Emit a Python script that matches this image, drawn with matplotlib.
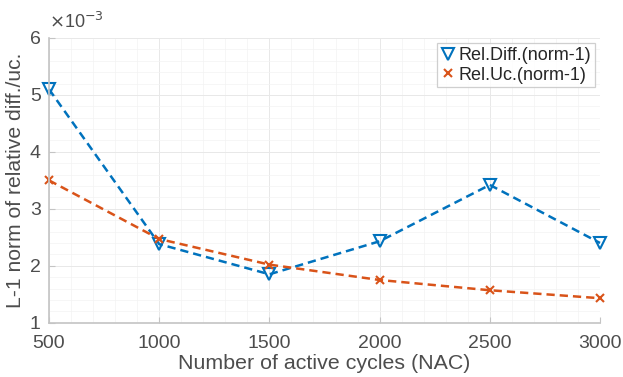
import matplotlib.pyplot as plt
from matplotlib.ticker import AutoMinorLocator

plt.rcParams['font.family'] = ['Liberation Sans', 'DejaVu Sans']

nac = [500, 1000, 1500, 2000, 2500, 3000]
rel_diff = [5.10, 2.38, 1.85, 2.43, 3.42, 2.40]   # x 1e-3
rel_uc = [3.50, 2.47, 2.02, 1.75, 1.57, 1.43]     # x 1e-3

blue = (0.0, 0.447, 0.741)
orange = (0.85, 0.325, 0.098)
grey = '#4d4d4d'

fig = plt.figure(figsize=(6.23, 3.77), dpi=100)
ax = fig.add_axes([49 / 623, 1 - 322.7 / 377, 551 / 623, 284.7 / 377])

ax.plot(nac, rel_diff, linestyle='--', color=blue, lw=1.8, marker='v',
        markersize=8, markerfacecolor='none', markeredgewidth=1.5,
        dashes=(3.3, 2), clip_on=False, label='Rel.Diff.(norm-1)')
ax.plot(nac, rel_uc, linestyle='--', color=orange, lw=1.8, marker='x',
        markersize=6, markeredgewidth=1.5, dashes=(3.3, 2), clip_on=False,
        label='Rel.Uc.(norm-1)')

ax.set_xlim(500, 3000)
ax.set_ylim(1, 6)
ax.set_xticks(nac)
ax.set_yticks([1, 2, 3, 4, 5, 6])
ax.xaxis.set_minor_locator(AutoMinorLocator(5))
ax.yaxis.set_minor_locator(AutoMinorLocator(5))

ax.grid(which='major', color='#e8e8e8', lw=0.7)
ax.grid(which='minor', color='#f3f3f3', lw=0.5)
ax.set_axisbelow(True)

for side in ['top', 'right']:
    ax.spines[side].set_visible(False)
for side in ['left', 'bottom']:
    ax.spines[side].set_color('#c4c4c4')
    ax.spines[side].set_linewidth(1.2)

ax.tick_params(which='both', direction='in', colors='#c4c4c4',
               labelcolor=grey, labelsize=14)
ax.tick_params(which='minor', length=0)
ax.tick_params(which='major', length=4)
ax.tick_params(axis='x', pad=9)
ax.tick_params(axis='y', pad=6)

ax.set_xlabel('Number of active cycles (NAC)', fontsize=15.4, color=grey,
              labelpad=1)
ax.set_ylabel('L-1 norm of relative diff./uc.', fontsize=15.2, color=grey,
              labelpad=3)

ax.text(0.0, 1.02, r'$\times$10$^{-3}$', transform=ax.transAxes,
        fontsize=13, color=grey, ha='left', va='bottom')

leg = ax.legend(loc='upper right', fontsize=13, frameon=True, fancybox=False,
                handlelength=0.8, handletextpad=0.2, borderpad=0.2,
                labelspacing=0.15, borderaxespad=0.3)
leg.get_frame().set_edgecolor('#c4c4c4')
leg.get_frame().set_linewidth(0.9)
for t in leg.get_texts():
    t.set_color('#262626')
for h in leg.legend_handles:
    h.set_linestyle('none')

fig.savefig('out.png', dpi=100)
